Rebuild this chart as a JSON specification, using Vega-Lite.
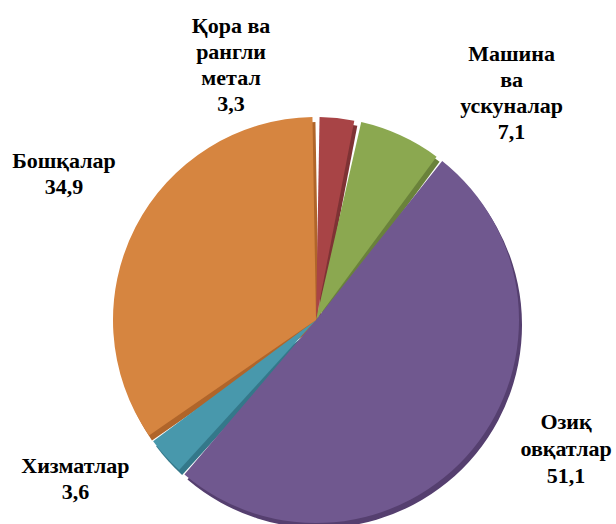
{
  "$schema": "https://vega.github.io/schema/vega-lite/v6.json",
  "width": 600,
  "height": 408,
  "autosize": "none",
  "padding": {"left": 16, "top": 116, "right": 0, "bottom": 0},
  "background": "white",
  "view": {"stroke": null},
  "data": {"values": [
    {"idx": 1, "cat": "Қора ва рангли метал", "value": 3.3, "label": "Қора ва|рангли|метал|3,3"},
    {"idx": 2, "cat": "Машина ва ускуналар", "value": 7.1, "label": "Машина|ва|ускуналар|7,1"},
    {"idx": 3, "cat": "Озиқ овқатлар", "value": 51.1, "label": "Озиқ|овқатлар|51,1"},
    {"idx": 4, "cat": "Хизматлар", "value": 3.6, "label": "Хизматлар|3,6"},
    {"idx": 5, "cat": "Бошқалар", "value": 34.9, "label": "Бошқалар|34,9"}
  ]},
  "encoding": {
    "theta": {"field": "value", "type": "quantitative", "stack": true},
    "order": {"field": "idx", "type": "quantitative"}
  },
  "layer": [
    {
      "mark": {"type": "arc", "outerRadius": 203, "padAngle": 0.035, "xOffset": 3, "yOffset": 5},
      "encoding": {
        "color": {"field": "cat", "type": "nominal", "legend": null,
          "scale": {"domain": ["Қора ва рангли метал", "Машина ва ускуналар", "Озиқ овқатлар", "Хизматлар", "Бошқалар"],
                    "range": ["#7E3234", "#6A823B", "#553F6F", "#34788A", "#B0652A"]}}
      }
    },
    {
      "mark": {"type": "arc", "outerRadius": 203, "padAngle": 0.035},
      "encoding": {
        "color": {"field": "cat", "type": "nominal", "legend": null,
          "scale": {"domain": ["Қора ва рангли метал", "Машина ва ускуналар", "Озиқ овқатлар", "Хизматлар", "Бошқалар"],
                    "range": ["#A84446", "#8BA850", "#70588F", "#4898AC", "#D68540"]}}
      }
    },
    {
      "mark": {"type": "text", "radius": 271, "dx": -113, "dy": -24, "font": "Liberation Serif", "fontWeight": "bold", "fontSize": 22, "lineBreak": "|", "lineHeight": 26, "align": "center", "baseline": "middle", "color": "black"},
      "encoding": {"text": {"condition": {"test": "datum.idx === 1", "field": "label"}, "value": ""}}
    },
    {
      "mark": {"type": "text", "radius": 301, "dx": 70, "dy": 8, "font": "Liberation Serif", "fontWeight": "bold", "fontSize": 22, "lineBreak": "|", "lineHeight": 26, "align": "center", "baseline": "middle", "color": "black"},
      "encoding": {"text": {"condition": {"test": "datum.idx === 2", "field": "label"}, "value": ""}}
    },
    {
      "mark": {"type": "text", "radius": 281, "dx": 33, "dy": -76, "font": "Liberation Serif", "fontWeight": "bold", "fontSize": 22, "lineBreak": "|", "lineHeight": 27, "align": "center", "baseline": "middle", "color": "black"},
      "encoding": {"text": {"condition": {"test": "datum.idx === 3", "field": "label"}, "value": ""}}
    },
    {
      "mark": {"type": "text", "radius": 288, "dx": -27, "dy": -47, "font": "Liberation Serif", "fontWeight": "bold", "fontSize": 22, "lineBreak": "|", "lineHeight": 26, "align": "center", "baseline": "middle", "color": "black"},
      "encoding": {"text": {"condition": {"test": "datum.idx === 4", "field": "label"}, "value": ""}}
    },
    {
      "mark": {"type": "text", "radius": 290, "dx": 6, "dy": -27, "font": "Liberation Serif", "fontWeight": "bold", "fontSize": 22, "lineBreak": "|", "lineHeight": 26, "align": "center", "baseline": "middle", "color": "black"},
      "encoding": {"text": {"condition": {"test": "datum.idx === 5", "field": "label"}, "value": ""}}
    }
  ],
  "resolve": {"scale": {"color": "independent"}}
}
